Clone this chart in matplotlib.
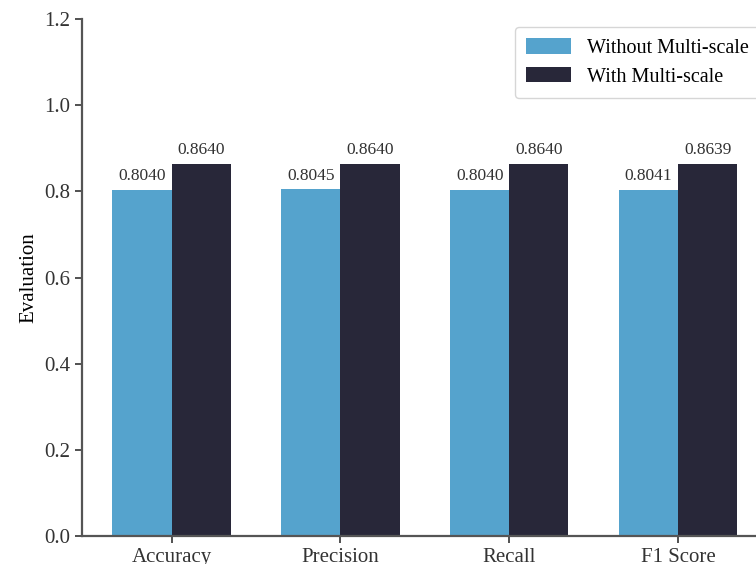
import numpy as np
import matplotlib.pyplot as plt

plt.rcParams['font.family'] = ['Liberation Serif', 'DejaVu Serif']

metrics = ['Accuracy', 'Precision', 'Recall', 'F1 Score']
without_ms = [0.8040, 0.8045, 0.8040, 0.8041]
with_ms = [0.8640, 0.8640, 0.8640, 0.8639]
series_names = ['Without Multi-scale', 'With Multi-scale']
colors = ['#55a3cd', '#282739']

x = np.arange(len(metrics))
width = 0.35

fig = plt.figure(figsize=(7.56, 5.64), dpi=100)
ax = fig.add_axes([0.1085, 0.0496, 0.907, 0.9167])

b1 = ax.bar(x - width / 2, without_ms, width, color=colors[0], label=series_names[0])
b2 = ax.bar(x + width / 2, with_ms, width, color=colors[1], label=series_names[1])

for bars, vals in ((b1, without_ms), (b2, with_ms)):
    for rect, v in zip(bars, vals):
        ax.annotate(f'{v:.4f}', (rect.get_x() + rect.get_width() / 2, v),
                    xytext=(0, 4), textcoords='offset points',
                    ha='center', va='bottom', fontsize=12.5, color='#333333')

ax.set_xlim(-0.53, 3.53)
ax.set_ylim(0, 1.2)
ax.set_yticks(np.arange(0, 1.21, 0.2))
ax.set_xticks(x)
ax.set_xticklabels(metrics)
ax.set_ylabel('Evaluation', fontsize=15)
ax.tick_params(labelsize=15, colors='#333333', length=5, width=1.2)

for side in ('top', 'right'):
    ax.spines[side].set_visible(False)
for side in ('left', 'bottom'):
    ax.spines[side].set_color('#555555')
    ax.spines[side].set_linewidth(1.6)

ax.legend(loc='upper right', fontsize=14.5, frameon=True, handlelength=2.2,
          handleheight=0.8, borderpad=0.55, labelspacing=0.45,
          borderaxespad=0.4, handletextpad=0.8)

fig.savefig('out.png', dpi=100)
